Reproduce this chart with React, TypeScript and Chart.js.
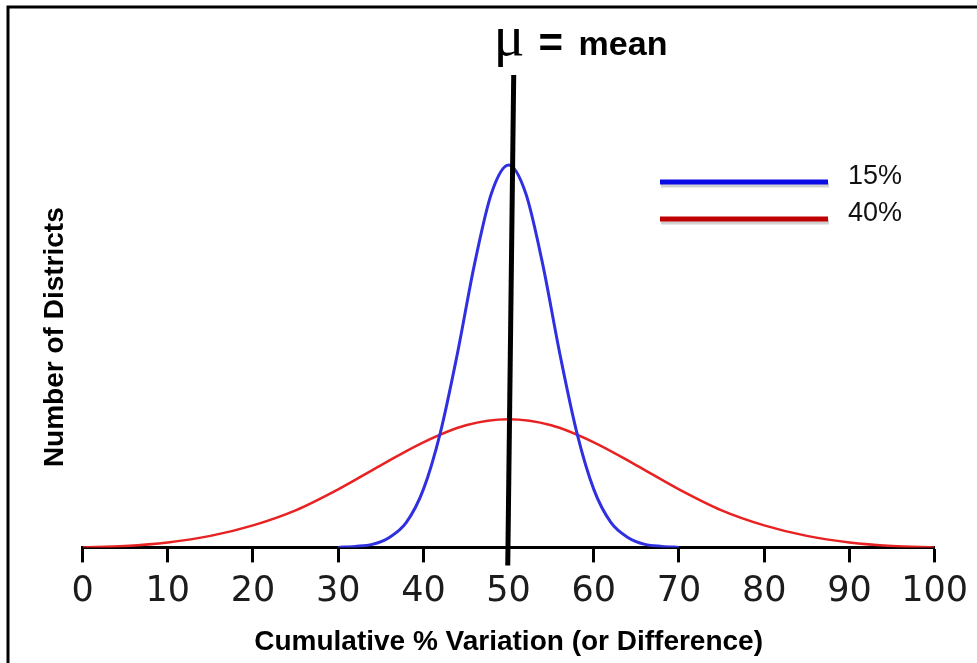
import React, { useEffect, useRef } from 'react';
import { Chart, registerables } from 'chart.js';

Chart.register(...registerables);

// ---- data ----
const xTickValues = [0, 10, 20, 30, 40, 50, 60, 70, 80, 90, 100];

const blueLabel = '15%';
const blueX = [30, 32, 34, 36, 38, 40, 42, 44, 46, 48, 50, 52, 54, 56, 58, 60, 62, 64, 66, 68, 70];
const blueY = [0, 1, 3, 10, 25, 58, 115, 194, 283, 354, 382, 354, 283, 194, 115, 58, 25, 10, 3, 1, 0];

const redLabel = '40%';
const redX = [0, 5, 10, 15, 20, 25, 30, 35, 40, 45, 50, 55, 60, 65, 70, 75, 80, 85, 90, 95, 100];
const redY = [0, 1.5, 5, 11.5, 22, 37, 58, 82, 105, 122, 128, 122, 105, 82, 58, 37, 22, 11.5, 5, 1.5, 0];

const meanX = [50.6, 49.9];
const meanY = [472, -18];

const titleSymbol = 'μ';
const titleEq = '=';
const titleWord = 'mean';
const xTitle = 'Cumulative % Variation (or Difference)';
const yTitle = 'Number of Districts';

const BLUE = '#3030e0';
const RED = '#e82222';
const LEGEND_BLUE = '#0a0ae6';
const LEGEND_RED = '#c00000';

const decorPlugin = {
  id: 'decor',
  afterDraw(chart: any) {
    const ctx = chart.ctx as CanvasRenderingContext2D;
    const xs = chart.scales.x;
    ctx.save();
    // frame (top & left)
    ctx.strokeStyle = '#000';
    ctx.lineWidth = 3;
    ctx.beginPath();
    ctx.moveTo(8, chart.height + 5);
    ctx.lineTo(8, 7);
    ctx.lineTo(chart.width + 5, 7);
    ctx.stroke();

    // title
    const mx = xs.getPixelForValue(50);
    ctx.fillStyle = '#000';
    ctx.textBaseline = 'alphabetic';
    ctx.textAlign = 'left';
    ctx.font = '58px "Liberation Serif"';
    ctx.fillText(titleSymbol, mx - 15, 55);
    ctx.font = 'bold 42px "Liberation Sans"';
    ctx.fillText(titleEq, mx + 30, 57);
    ctx.font = 'bold 34px "Liberation Sans"';
    ctx.fillText(titleWord, mx + 70, 55);

    // legend
    const items = [
      { label: blueLabel, color: LEGEND_BLUE, y: 182 },
      { label: redLabel, color: LEGEND_RED, y: 219 },
    ];
    ctx.font = '27px "Liberation Sans"';
    ctx.textBaseline = 'middle';
    for (const it of items) {
      ctx.strokeStyle = 'rgba(0,0,0,0.18)';
      ctx.lineWidth = 5;
      ctx.beginPath();
      ctx.moveTo(661, it.y + 3);
      ctx.lineTo(829, it.y + 3);
      ctx.stroke();
      ctx.strokeStyle = it.color;
      ctx.beginPath();
      ctx.moveTo(660, it.y);
      ctx.lineTo(828, it.y);
      ctx.stroke();
      ctx.fillStyle = '#111';
      ctx.fillText(it.label, 848, it.y - 5);
    }
    ctx.restore();
  },
};

export default function App() {
  const ref = useRef<HTMLCanvasElement>(null);
  useEffect(() => {
    document.body.style.margin = '0';
    const chart = new Chart(ref.current as HTMLCanvasElement, {
      type: 'line',
      data: {
        datasets: [
          {
            label: 'mean',
            data: meanX.map((x, i) => ({ x, y: meanY[i] })),
            borderColor: '#000',
            borderWidth: 5,
            pointRadius: 0,
            clip: false as any,
            order: 0,
          },
          {
            label: blueLabel,
            data: blueX.map((x, i) => ({ x, y: blueY[i] })),
            borderColor: BLUE,
            borderWidth: 3,
            pointRadius: 0,
            cubicInterpolationMode: 'monotone',
            order: 1,
          },
          {
            label: redLabel,
            data: redX.map((x, i) => ({ x, y: redY[i] })),
            borderColor: RED,
            borderWidth: 2.5,
            pointRadius: 0,
            cubicInterpolationMode: 'monotone',
            order: 2,
          },
        ],
      },
      options: {
        animation: false,
        responsive: false,
        layout: { padding: { left: 30, right: 42, top: 127, bottom: 2 } },
        plugins: { legend: { display: false }, tooltip: { enabled: false }, title: { display: false } },
        scales: {
          x: {
            type: 'linear',
            min: 0,
            max: 100,
            afterBuildTicks: (s: any) => {
              s.ticks = xTickValues.map((v) => ({ value: v }));
            },
            ticks: {
              font: { family: 'DejaVu Sans', size: 35 },
              color: '#1c1c1c',
              padding: 9,
              maxRotation: 0,
              autoSkip: false,
            },
            grid: {
              drawOnChartArea: false,
              drawTicks: true,
              tickLength: 15,
              tickWidth: 3,
              tickColor: '#000',
              color: '#000',
            },
            border: { color: '#000', width: 3 },
            title: {
              display: true,
              text: xTitle,
              font: { family: 'Liberation Sans', size: 28, weight: 'bold' },
              color: '#000',
              padding: { top: 3, bottom: 2 },
            },
          },
          y: {
            min: 0,
            max: 420,
            ticks: { display: false },
            grid: { display: false },
            border: { display: false },
            title: {
              display: true,
              text: yTitle,
              font: { family: 'Liberation Sans', size: 28, weight: 'bold' },
              color: '#000',
              padding: { top: 8, bottom: 3 },
            },
          },
        },
      },
      plugins: [decorPlugin],
    } as any);
    return () => chart.destroy();
  }, []);
  return (
    <div style={{ width: 977, height: 663 }}>
      <canvas ref={ref} width={977} height={663} style={{ display: 'block' }} />
    </div>
  );
}
